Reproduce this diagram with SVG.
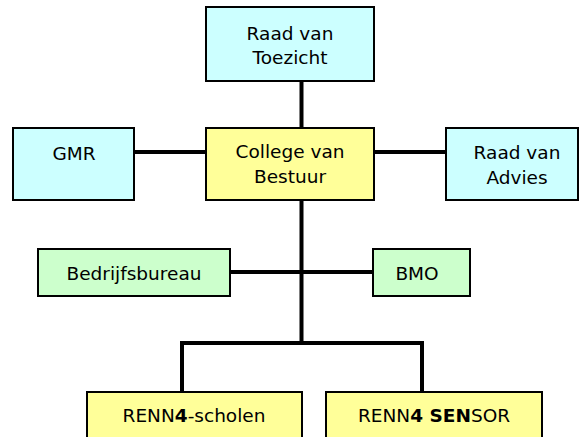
<svg xmlns="http://www.w3.org/2000/svg" width="579" height="437" viewBox="0 0 579 437">
<style>
.box{stroke:#000;stroke-width:2}
.cyan{fill:#CCFFFF}
.yellow{fill:#FFFF99}
.green{fill:#CCFFCC}
text{font-family:"DejaVu Sans","Liberation Sans",sans-serif;font-size:18.5px;fill:#000;text-anchor:middle}
.b{font-weight:bold}
.conn{stroke:#000;stroke-width:4;fill:none;stroke-linejoin:miter;stroke-linecap:butt}
</style>
<rect width="579" height="437" fill="#fff"/>
<g id="connectors">
<path class="conn" d="M301.5,81 V128"/>
<path class="conn" d="M134,152 H206"/>
<path class="conn" d="M374,152 H446"/>
<path class="conn" d="M301.5,200 V343"/>
<path class="conn" d="M230,272 H373"/>
<path class="conn" d="M182,392 V343 H422 V392"/>
</g>
<g id="raad-van-toezicht">
<rect class="box cyan" x="206" y="7" width="168" height="74"/>
<text x="290" y="40">Raad van</text>
<text x="290" y="64">Toezicht</text>
</g>
<g id="gmr">
<rect class="box cyan" x="13" y="128" width="121" height="72"/>
<text x="74" y="160">GMR</text>
</g>
<g id="college-van-bestuur">
<rect class="box yellow" x="206" y="128" width="168" height="72"/>
<text x="290" y="158">College van</text>
<text x="290" y="183">Bestuur</text>
</g>
<g id="raad-van-advies">
<rect class="box cyan" x="446" y="128" width="132" height="72"/>
<text x="517" y="159">Raad van</text>
<text x="517" y="184">Advies</text>
</g>
<g id="bedrijfsbureau">
<rect class="box green" x="38" y="249" width="192" height="47"/>
<text x="134" y="280">Bedrijfsbureau</text>
</g>
<g id="bmo">
<rect class="box green" x="373" y="249" width="97" height="47"/>
<text x="417" y="280">BMO</text>
</g>
<g id="renn4-scholen">
<rect class="box yellow" x="87" y="392" width="215" height="60"/>
<text x="194" y="422">RENN<tspan class="b">4</tspan>-scholen</text>
</g>
<g id="renn4-sensor">
<rect class="box yellow" x="326" y="392" width="216" height="60"/>
<text x="434" y="422">RENN<tspan class="b">4 SEN</tspan>SOR</text>
</g>
</svg>
